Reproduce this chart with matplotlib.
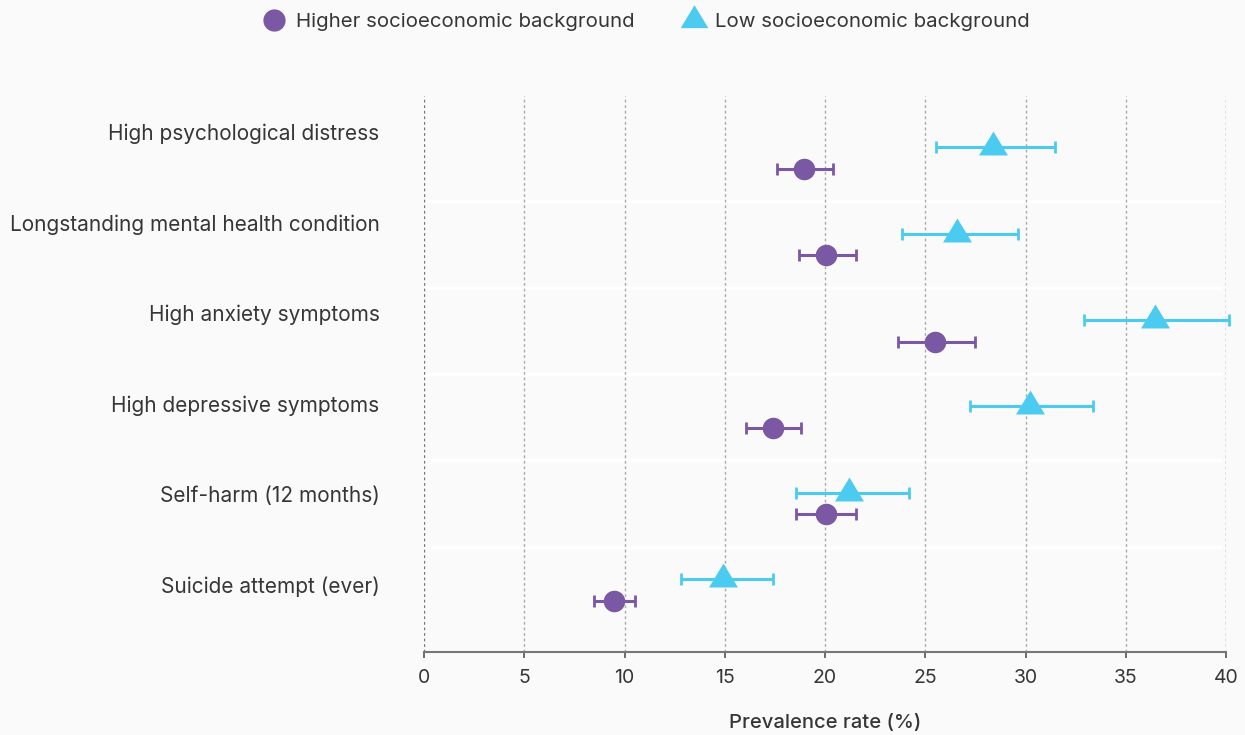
import matplotlib
matplotlib.use("Agg")
import matplotlib.pyplot as plt
from matplotlib.lines import Line2D
import numpy as np

plt.rcParams['font.family'] = ['Inter', 'DejaVu Sans']

categories = ['High psychological distress', 'Longstanding mental health condition',
              'High anxiety symptoms', 'High depressive symptoms',
              'Self-harm (12 months)', 'Suicide attempt (ever)']

# higher socioeconomic background: estimate, lower CI, upper CI
high_val = [18.95, 20.03, 25.5, 17.42, 20.04, 9.49]
high_lo = [17.6, 18.71, 23.65, 16.06, 18.55, 8.49]
high_hi = [20.38, 21.53, 27.47, 18.81, 21.56, 10.54]

# low socioeconomic background
low_val = [28.39, 26.59, 36.45, 30.2, 21.22, 14.89]
low_lo = [25.56, 23.84, 32.9, 27.22, 18.55, 12.8]
low_hi = [31.45, 29.65, 40.15, 33.35, 24.18, 17.39]

xticks = [0, 5, 10, 15, 20, 25, 30, 35, 40]

purple = '#7a58a4'
cyan = '#4ccbf0'
bg = '#fafafa'
text_col = '#363636'

fig = plt.figure(figsize=(12.45, 7.35), dpi=100, facecolor=bg)
ax = fig.add_axes([424 / 1245, 1 - 652 / 735, (1226 - 424) / 1245, (652 - 96) / 735])
ax.set_facecolor(bg)

y = np.arange(len(categories))
off = 0.125

# triangle marker centred on its centroid
tri = [(0, 16), (-14.5, -8), (14.5, -8), (0, 16)]

for i in range(len(categories) - 1):
    ax.axhline(i + 0.5, xmin=0, xmax=0.993, color='white', lw=2.5, zorder=1)

for xv in xticks:
    c = '#777777' if xv in (0, 40) else '#aaaaaa'
    ax.axvline(xv, color=c, lw=1, ls=(0, (2, 2)), zorder=2)

eb = ax.errorbar(low_val, y - off,
                 xerr=[np.array(low_val) - np.array(low_lo), np.array(low_hi) - np.array(low_val)],
                 fmt='none', ecolor=cyan, elinewidth=2.2, capsize=4, capthick=2, zorder=3)
for art in eb.lines[1] + eb.lines[2]:
    art.set_clip_on(False)
ax.plot(low_val, y - off, ls='none', marker=tri, ms=23, color=cyan, mew=0, zorder=4)

ax.errorbar(high_val, y + off,
            xerr=[np.array(high_val) - np.array(high_lo), np.array(high_hi) - np.array(high_val)],
            fmt='none', ecolor=purple, elinewidth=2.2, capsize=4, capthick=2, zorder=3)
ax.plot(high_val, y + off, ls='none', marker='o', ms=15.5, color=purple, mew=0, zorder=4)

ax.set_xlim(0, 40)
ax.set_ylim(5.718, -0.718)
ax.set_xticks(xticks)
ax.set_xticklabels([str(v) for v in xticks], fontsize=14, color=text_col)

label_pos = -0.30 + 1.0475 * y
ax.set_yticks(label_pos)
ax.set_yticklabels(categories, fontsize=15, color=text_col)
ax.tick_params(axis='y', length=0, pad=32)
ax.tick_params(axis='x', length=4, width=1.2, color='#555555', pad=8)

for s in ['top', 'right', 'left']:
    ax.spines[s].set_visible(False)
ax.spines['bottom'].set_color('#777777')
ax.spines['bottom'].set_linewidth(1.5)

ax.set_xlabel('Prevalence rate (%)', fontsize=14.5, color=text_col, fontweight='medium', labelpad=20)

handles = [
    Line2D([], [], ls='none', marker='o', ms=16, color=purple, mew=0),
    Line2D([], [], ls='none', marker=tri, ms=22, color=cyan, mew=0),
]
fig.legend(handles, ['Higher socioeconomic background', 'Low socioeconomic background'],
           loc='center', bbox_to_anchor=(646 / 1245, 1 - 22 / 735), ncol=2, frameon=False,
           fontsize=14.7, labelcolor=text_col, handletextpad=0.45, columnspacing=2.3,
           handlelength=1.2)

fig.savefig('out.png', dpi=100, facecolor=bg)
